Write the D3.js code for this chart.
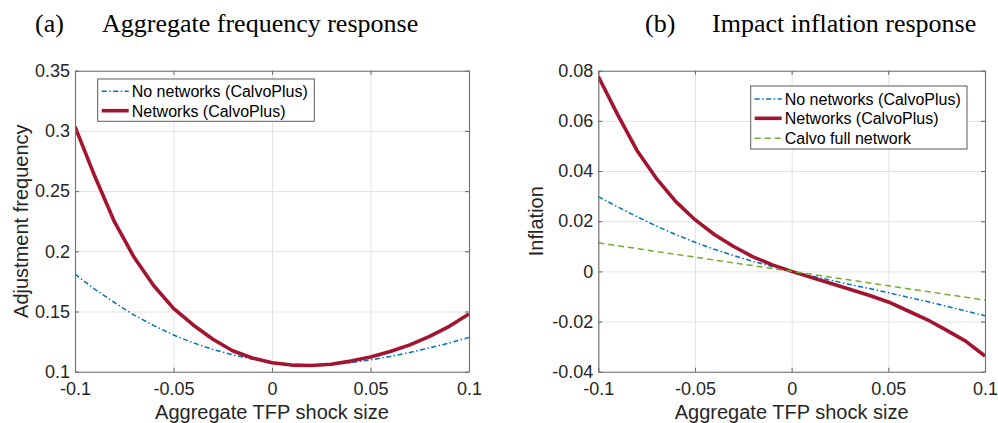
<!DOCTYPE html>
<html>
<head>
<meta charset="utf-8">
<script src="https://cdn.jsdelivr.net/npm/d3@7"></script>
<style>
  html, body { margin: 0; padding: 0; background: #fff; }
  svg { display: block; }
  .tick text { font-family: "Liberation Sans", Arial, Helvetica, sans-serif; font-size: 18px; fill: #262626; }
  .grid line { stroke: #e3e3e3; stroke-width: 1; }
  .grid path { display: none; }
  .frame path, .frame line { stroke: #6e6e6e; stroke-width: 1.1; }
</style>
</head>
<body>
<svg id="chart" width="998" height="423"></svg>
<script>
'use strict';

// shock grid (x values shared by every series)
var shockSize = [-0.1, -0.09, -0.08, -0.07, -0.06, -0.05, -0.04, -0.03, -0.02, -0.01, 0,
                 0.01, 0.02, 0.03, 0.04, 0.05, 0.06, 0.07, 0.08, 0.09, 0.1];

// (a) aggregate adjustment frequency
var freqNoNetworks = [0.181, 0.1685, 0.1575, 0.147, 0.1383, 0.1305, 0.124, 0.1185, 0.114, 0.1105, 0.1078,
                      0.1062, 0.1056, 0.106, 0.1075, 0.1098, 0.1126, 0.1160, 0.1198, 0.1238, 0.1285];
var freqNetworks   = [0.3035, 0.2625, 0.2246, 0.195, 0.1714, 0.1526, 0.1388, 0.1269, 0.1174, 0.1114, 0.1075,
                      0.1055, 0.1052, 0.1062, 0.1088, 0.1122, 0.1168, 0.1223, 0.1293, 0.1377, 0.148];

// (b) impact inflation
var inflNoNetworks = [0.0298, 0.0257, 0.0218, 0.0181, 0.0147, 0.0116, 0.0088, 0.0063, 0.004, 0.0019, 0,
                      -0.0018, -0.0035, -0.0052, -0.0068, -0.0085, -0.0103, -0.012, -0.0139, -0.0158, -0.0177];
var inflNetworks   = [0.0777, 0.0625, 0.0482, 0.0371, 0.0279, 0.0206, 0.0147, 0.0099, 0.0058, 0.0026, 0,
                      -0.0024, -0.0047, -0.0071, -0.0095, -0.0122, -0.0157, -0.0192, -0.0234, -0.0278, -0.0338];
var inflCalvoFull  = [0.0114, 0.0102, 0.0091, 0.0079, 0.0068, 0.0057, 0.0045, 0.0034, 0.0023, 0.0011, 0,
                      -0.0011, -0.0023, -0.0034, -0.0046, -0.0057, -0.0069, -0.008, -0.0092, -0.0103, -0.0115];

// ticks
var xTicks = [-0.1, -0.05, 0, 0.05, 0.1];
var xTickLabels = ['-0.1', '-0.05', '0', '0.05', '0.1'];
var freqTicks = [0.1, 0.15, 0.2, 0.25, 0.3, 0.35];
var freqTickLabels = ['0.1', '0.15', '0.2', '0.25', '0.3', '0.35'];
var inflTicks = [-0.04, -0.02, 0, 0.02, 0.04, 0.06, 0.08];
var inflTickLabels = ['-0.04', '-0.02', '0', '0.02', '0.04', '0.06', '0.08'];

var seriesStyle = {
  noNet: { color: '#0072BD', width: 1.5, dash: '5,2.5,1.5,2.5', label: 'No networks (CalvoPlus)' },
  net:   { color: '#A2142F', width: 3.6, dash: null, label: 'Networks (CalvoPlus)' },
  calvo: { color: '#77AC30', width: 1.5, dash: '6,4', label: 'Calvo full network' }
};

var svg = d3.select('#chart');
var sansFont = '"Liberation Sans", Arial, Helvetica, sans-serif';
var serifFont = '"Liberation Serif", "Times New Roman", Times, serif';

function drawPanel(p) {
  var w = p.right - p.left, h = p.bottom - p.top;
  var x = d3.scaleLinear().domain([-0.1, 0.1]).range([0, w]);
  var y = d3.scaleLinear().domain(p.yDomain).range([h, 0]);
  var g = svg.append('g').attr('transform', 'translate(' + p.left + ',' + p.top + ')');

  // grid
  g.append('g').attr('class', 'grid')
    .attr('transform', 'translate(0,' + h + ')')
    .call(d3.axisBottom(x).tickValues(xTicks).tickSize(-h).tickFormat(''));
  g.append('g').attr('class', 'grid')
    .call(d3.axisLeft(y).tickValues(p.yTicks).tickSize(-w).tickFormat(''));

  // lines
  var clipId = 'clip-' + p.id;
  g.append('clipPath').attr('id', clipId)
    .append('rect').attr('width', w).attr('height', h);
  var line = d3.line()
    .x(function(d) { return x(d[0]); })
    .y(function(d) { return y(d[1]); });
  p.series.forEach(function(s) {
    var st = seriesStyle[s.key];
    g.append('path')
      .attr('clip-path', 'url(#' + clipId + ')')
      .attr('d', line(d3.zip(shockSize, s.values)))
      .attr('fill', 'none')
      .attr('stroke', st.color)
      .attr('stroke-width', st.width)
      .attr('stroke-dasharray', st.dash)
      .attr('stroke-linejoin', 'round');
  });

  // box with inward ticks
  var bottomAxis = g.append('g').attr('class', 'frame')
    .attr('transform', 'translate(0,' + h + ')')
    .call(d3.axisBottom(x).tickValues(xTicks).tickSizeInner(-4).tickSizeOuter(0).tickPadding(11)
      .tickFormat(function(d, i) { return xTickLabels[i]; }));
  var leftAxis = g.append('g').attr('class', 'frame')
    .call(d3.axisLeft(y).tickValues(p.yTicks).tickSizeInner(-4).tickSizeOuter(0).tickPadding(5)
      .tickFormat(function(d, i) { return p.yTickLabels[i]; }));
  g.append('g').attr('class', 'frame')
    .call(d3.axisTop(x).tickValues(xTicks).tickSizeInner(-4).tickSizeOuter(0).tickFormat(''));
  g.append('g').attr('class', 'frame')
    .attr('transform', 'translate(' + w + ',0)')
    .call(d3.axisRight(y).tickValues(p.yTicks).tickSizeInner(-4).tickSizeOuter(0).tickFormat(''));

  // axis labels
  g.append('text')
    .attr('x', w / 2).attr('y', h + 47.5)
    .attr('text-anchor', 'middle')
    .style('font-family', sansFont).style('font-size', '20px').style('fill', '#262626')
    .text('Aggregate TFP shock size');
  g.append('text')
    .attr('transform', 'translate(' + (p.yLabelX - p.left) + ',' + (h / 2) + ') rotate(-90)')
    .attr('text-anchor', 'middle')
    .style('font-family', sansFont).style('font-size', '20px').style('fill', '#262626')
    .text(p.yLabel);

  // panel title
  svg.append('text')
    .attr('x', p.tagX).attr('y', 32)
    .style('font-family', serifFont).style('font-size', '26px').style('fill', '#000')
    .text(p.tag);
  svg.append('text')
    .attr('x', p.titleX).attr('y', 32)
    .style('font-family', serifFont).style('font-size', '26px').style('fill', '#000')
    .text(p.title);

  // legend
  var lg = svg.append('g').attr('transform', 'translate(' + p.legend.x + ',' + p.legend.y + ')');
  lg.append('rect')
    .attr('width', p.legend.w).attr('height', p.legend.h)
    .attr('fill', '#fff').attr('stroke', '#5a5a5a').attr('stroke-width', 1);
  p.series.forEach(function(s, i) {
    var st = seriesStyle[s.key];
    var cy = p.legend.rowY[i];
    lg.append('line')
      .attr('x1', 4).attr('x2', 31).attr('y1', cy).attr('y2', cy)
      .attr('stroke', st.color).attr('stroke-width', st.width)
      .attr('stroke-dasharray', st.dash);
    lg.append('text')
      .attr('x', 34).attr('y', cy + 5.8)
      .style('font-family', sansFont).style('font-size', '16px').style('fill', '#000')
      .text(st.label);
  });
}

drawPanel({
  id: 'a', left: 75, right: 469, top: 70.7, bottom: 371.7,
  yDomain: [0.1, 0.35], yTicks: freqTicks, yTickLabels: freqTickLabels,
  yLabel: 'Adjustment frequency', yLabelX: 28,
  tag: '(a)', tagX: 35, title: 'Aggregate frequency response', titleX: 102,
  series: [{ key: 'noNet', values: freqNoNetworks }, { key: 'net', values: freqNetworks }],
  legend: { x: 97.7, y: 79, w: 216.6, h: 42.3, rowY: [12.3, 31.7] }
});

drawPanel({
  id: 'b', left: 598.3, right: 985, top: 70.7, bottom: 371.7,
  yDomain: [-0.04, 0.08], yTicks: inflTicks, yTickLabels: inflTickLabels,
  yLabel: 'Inflation', yLabelX: 543,
  tag: '(b)', tagX: 645, title: 'Impact inflation response', titleX: 712,
  series: [{ key: 'noNet', values: inflNoNetworks }, { key: 'net', values: inflNetworks },
           { key: 'calvo', values: inflCalvoFull }],
  legend: { x: 750.7, y: 86, w: 216.3, h: 63, rowY: [13, 32.3, 52.3] }
});
</script>
</body>
</html>
